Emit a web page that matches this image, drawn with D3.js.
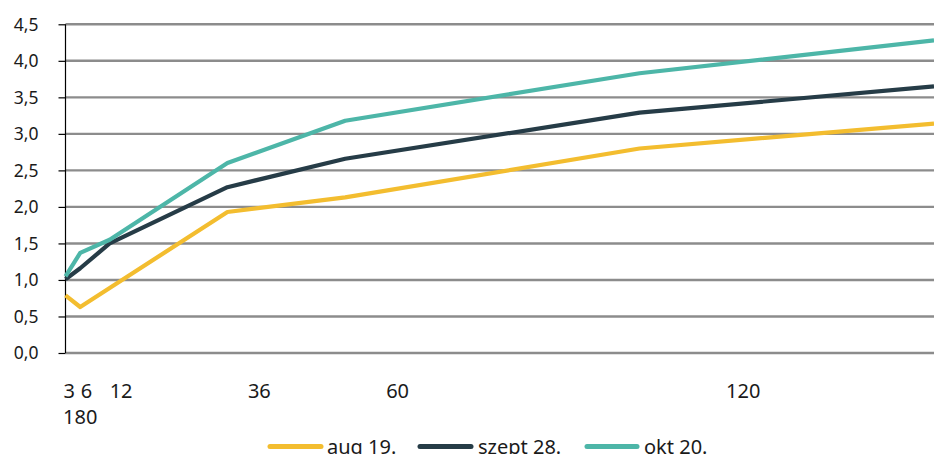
<!DOCTYPE html>
<html>
<head>
<meta charset="utf-8">
<script src="https://cdn.jsdelivr.net/npm/d3@7"></script>
<style>
  html, body { margin: 0; padding: 0; background: #fff; }
  svg { display: block; font-family: "Noto Sans", sans-serif; }
</style>
</head>
<body>
<svg id="chart" width="934" height="454"></svg>
<script>
// ---- data ----
const maturities = [3, 6, 12, 36, 60, 120, 180];
const seriesNames = ["aug 19.", "szept 28.", "okt 20."];
const aug19  = [0.79, 0.63, 0.89, 1.93, 2.13, 2.80, 3.14];
const szept28 = [1.01, 1.16, 1.50, 2.27, 2.66, 3.29, 3.65];
const okt20  = [1.05, 1.37, 1.55, 2.60, 3.18, 3.83, 4.28];
const yTicks = [0, 0.5, 1, 1.5, 2, 2.5, 3, 3.5, 4, 4.5];
const xTickLabels = ["3", "6", "12", "36", "60", "120", "180"];
const colors = ["#F3BD2F", "#263C47", "#4DB6A8"];

const allSeries = [aug19, szept28, okt20];

const svg = d3.select("#chart");
const W = 934, H = 454;
const mLeft = 65.5, mRight = 934, mTop = 24.3, mBottom = 353;

const x = d3.scaleLinear().domain([3, 180]).range([mLeft, mRight]);
const y = d3.scaleLinear().domain([0, 4.5]).range([mBottom, mTop]);
// label placement scale (labels in the source are spread wider than the data points)
const xl = d3.scaleLinear().domain([0, 180]).range([52, 52 + 180 * 5.76]);

// gridlines
svg.append("g").selectAll("line").data(yTicks).join("line")
  .attr("x1", mLeft).attr("x2", mRight)
  .attr("y1", d => y(d)).attr("y2", d => y(d))
  .attr("stroke", "#8c8c8c").attr("stroke-width", 2.4);

// y axis
const yAxis = d3.axisLeft(y).tickValues(yTicks).tickSize(7).tickPadding(20)
  .tickFormat(d => d3.format(".1f")(d).replace(".", ","));
const gy = svg.append("g").attr("transform", `translate(${mLeft},0)`).call(yAxis);
gy.select(".domain").attr("stroke", "#000").attr("stroke-width", 1.2).attr("d", `M0,${mTop}V${mBottom}`);
gy.selectAll(".tick line").attr("stroke", "#000").attr("stroke-width", 1.2);
gy.selectAll(".tick text").attr("fill", "#1a1a1a").style("font-size", "17.5px")
  .style("font-family", "'Noto Sans', sans-serif").attr("dy", "0.34em");

// x tick labels (overflowing label wraps to a second line)
const gx = svg.append("g");
xTickLabels.forEach((lab, i) => {
  const m = maturities[i];
  const px = xl(m);
  const t = gx.append("text").text(lab)
    .style("font-size", "20px").attr("fill", "#1a1a1a");
  if (px + 20 > W) {
    t.attr("x", 63).attr("y", 424).attr("text-anchor", "start");
  } else {
    t.attr("x", px).attr("y", 398).attr("text-anchor", "middle");
  }
});

// lines
const line = d3.line().x((d, i) => x(maturities[i])).y(d => y(d));
svg.append("g").selectAll("path").data(allSeries).join("path")
  .attr("d", d => line(d))
  .attr("fill", "none")
  .attr("stroke", (d, i) => colors[i])
  .attr("stroke-width", 4.2)
  .attr("stroke-linejoin", "round");

// legend
const legendItems = [
  { x0: 268, x1: 323, tx: 327 },
  { x0: 418, x1: 473, tx: 478 },
  { x0: 585, x1: 639, tx: 644 }
];
const lg = svg.append("g");
seriesNames.forEach((name, i) => {
  const it = legendItems[i];
  lg.append("line").attr("x1", it.x0 + 2).attr("x2", it.x1 - 2)
    .attr("y1", 446.5).attr("y2", 446.5)
    .attr("stroke", colors[i]).attr("stroke-width", 5).attr("stroke-linecap", "round");
  lg.append("text").attr("x", it.tx).attr("y", 453.5).text(name)
    .style("font-size", "20px").attr("fill", "#1a1a1a");
});
</script>
</body>
</html>
